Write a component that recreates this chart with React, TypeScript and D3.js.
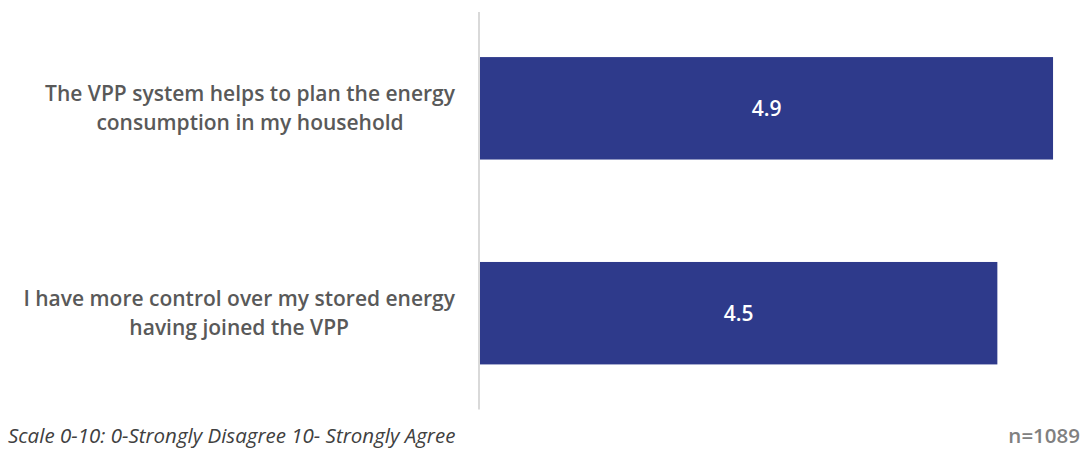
import React, { useEffect, useRef } from "react";
import * as d3 from "d3";

const categoryLines: string[][] = [
  ["The VPP system helps to plan the energy", "consumption in my household"],
  ["I have more control over my stored energy", "having joined the VPP"],
];
const values: number[] = [4.94, 4.46];
const footnote = "Scale 0-10: 0-Strongly Disagree 10- Strongly Agree";
const sampleNote = "n=1089";

const W = 1087;
const H = 452;

export default function App() {
  const ref = useRef<SVGSVGElement | null>(null);

  useEffect(() => {
    document.body.style.margin = "0";
    const svg = d3.select(ref.current!);
    svg.selectAll("*").remove();

    const x = d3.scaleLinear().domain([0, 5]).range([480, 1060]);
    const y = d3
      .scaleBand<number>()
      .domain(values.map((_, i) => i))
      .range([12, 409.5])
      .paddingInner(0.5)
      .paddingOuter(0.22);

    svg
      .append("line")
      .attr("x1", x(0) - 1)
      .attr("x2", x(0) - 1)
      .attr("y1", y.range()[0])
      .attr("y2", y.range()[1])
      .attr("stroke", "#d9d9d9")
      .attr("stroke-width", 2);

    svg
      .selectAll("rect.bar")
      .data(values)
      .enter()
      .append("rect")
      .attr("class", "bar")
      .attr("x", x(0))
      .attr("y", (_, i) => y(i)!)
      .attr("width", (d) => x(d) - x(0))
      .attr("height", y.bandwidth())
      .attr("fill", "#2e3a8b");

    const fmt = d3.format(".1f");
    svg
      .selectAll("text.val")
      .data(values)
      .enter()
      .append("text")
      .attr("class", "val")
      .attr("x", (d) => (x(0) + x(d)) / 2)
      .attr("y", (_, i) => y(i)! + y.bandwidth() / 2)
      .attr("dy", "0.35em")
      .attr("text-anchor", "middle")
      .attr("font-family", "'Open Sans', sans-serif")
      .attr("font-weight", 600)
      .attr("font-size", 21)
      .attr("fill", "#ffffff")
      .text((d) => fmt(d));

    const lineGap = 29.5;
    const rightEdge = 455;
    categoryLines.forEach((lines, i) => {
      const g = svg.append("g");
      const cy = y(i)! + y.bandwidth() / 2;
      const texts = lines.map((ln, j) =>
        g
          .append("text")
          .attr("y", cy + (j - (lines.length - 1) / 2) * lineGap)
          .attr("dy", "0.35em")
          .attr("text-anchor", "middle")
          .attr("font-family", "'Open Sans', sans-serif")
          .attr("font-weight", 600)
          .attr("font-size", 21)
          .attr("fill", "#595959")
          .text(ln)
      );
      const maxW = d3.max(texts, (t) => (t.node() as SVGTextElement).getComputedTextLength()) || 0;
      texts.forEach((t) => t.attr("x", rightEdge - maxW / 2));
    });

    svg
      .append("text")
      .attr("x", 8)
      .attr("y", 443)
      .attr("font-family", "'Open Sans', sans-serif")
      .attr("font-style", "italic")
      .attr("font-size", 20.5)
      .attr("fill", "#404040")
      .text(footnote);

    svg
      .append("text")
      .attr("x", 1080)
      .attr("y", 443)
      .attr("text-anchor", "end")
      .attr("font-family", "'Open Sans', sans-serif")
      .attr("font-weight", 600)
      .attr("font-size", 20.5)
      .attr("fill", "#808080")
      .text(sampleNote);
  }, []);

  return <svg ref={ref} width={W} height={H} style={{ display: "block", background: "#fff" }} />;
}
